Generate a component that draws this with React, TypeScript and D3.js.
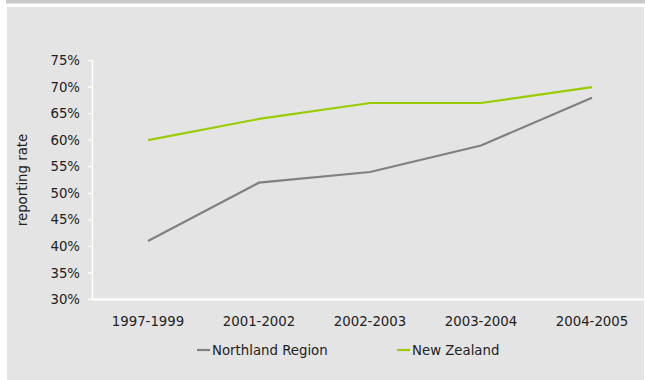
import React from "react";
import * as d3 from "d3";

const categories = ["1997-1999", "2001-2002", "2002-2003", "2003-2004", "2004-2005"];
const northland = [41, 52, 54, 59, 68];
const newZealand = [60, 64, 67, 67, 70];
const yTicks = [30, 35, 40, 45, 50, 55, 60, 65, 70, 75];
const seriesNames = ["Northland Region", "New Zealand"];
const seriesColors = ["#808080", "#99cc00"];

const W = 645;
const H = 380;
const FONT = "DejaVu Sans, Verdana, sans-serif";
const FS = 13.3;

export default function App() {
  const x = d3.scaleBand<string>().domain(categories).range([92.5, 647.5]);
  const y = d3.scaleLinear().domain([30, 75]).range([299.5, 60.5]);
  const line = d3
    .line<number>()
    .x((_, i) => (x(categories[i]) as number) + x.bandwidth() / 2)
    .y((d) => y(d));
  const series = [northland, newZealand];
  const legendX = [197, 397];

  return (
    <div style={{ position: "absolute", left: 0, top: 0 }}>
      <svg width={W} height={H} style={{ display: "block" }}>
        <rect x={0} y={0} width={W} height={H} fill="#ffffff" />
        <rect x={6} y={0} width={W - 6} height={3.5} fill="#c8c8c8" />
        <rect x={7} y={7} width={W - 8} height={H - 7} fill="#e4e4e4" />
        {/* y axis */}
        <line x1={92.5} x2={92.5} y1={y(75)} y2={y(30)} stroke="#ffffff" strokeWidth={1.5} />
        {yTicks.map((t) => (
          <g key={t}>
            <line x1={88} x2={92.5} y1={y(t)} y2={y(t)} stroke="#ffffff" strokeWidth={1.2} />
            <text
              x={80}
              y={y(t)}
              dy="0.35em"
              textAnchor="end"
              fontFamily={FONT}
              fontSize={FS}
              fill="#222"
            >
              {t}%
            </text>
          </g>
        ))}
        {/* x axis */}
        <line x1={92} x2={W} y1={y(30)} y2={y(30)} stroke="#ffffff" strokeWidth={2} />
        {categories.map((c) => (
          <text
            key={c}
            x={(x(c) as number) + x.bandwidth() / 2}
            y={326}
            textAnchor="middle"
            fontFamily={FONT}
            fontSize={FS}
            fill="#222"
          >
            {c}
          </text>
        ))}
        <text
          transform={`translate(27,${180}) rotate(-90)`}
          textAnchor="middle"
          fontFamily={FONT}
          fontSize={FS}
          fill="#222"
        >
          reporting rate
        </text>
        {series.map((s, i) => (
          <path key={i} d={line(s) || ""} fill="none" stroke={seriesColors[i]} strokeWidth={2.2} />
        ))}
        {seriesNames.map((n, i) => (
          <g key={n}>
            <line
              x1={legendX[i]}
              x2={legendX[i] + 13}
              y1={350}
              y2={350}
              stroke={seriesColors[i]}
              strokeWidth={2.2}
            />
            <text x={legendX[i] + 15} y={355} fontFamily={FONT} fontSize={FS} fill="#222">
              {n}
            </text>
          </g>
        ))}
      </svg>
    </div>
  );
}
